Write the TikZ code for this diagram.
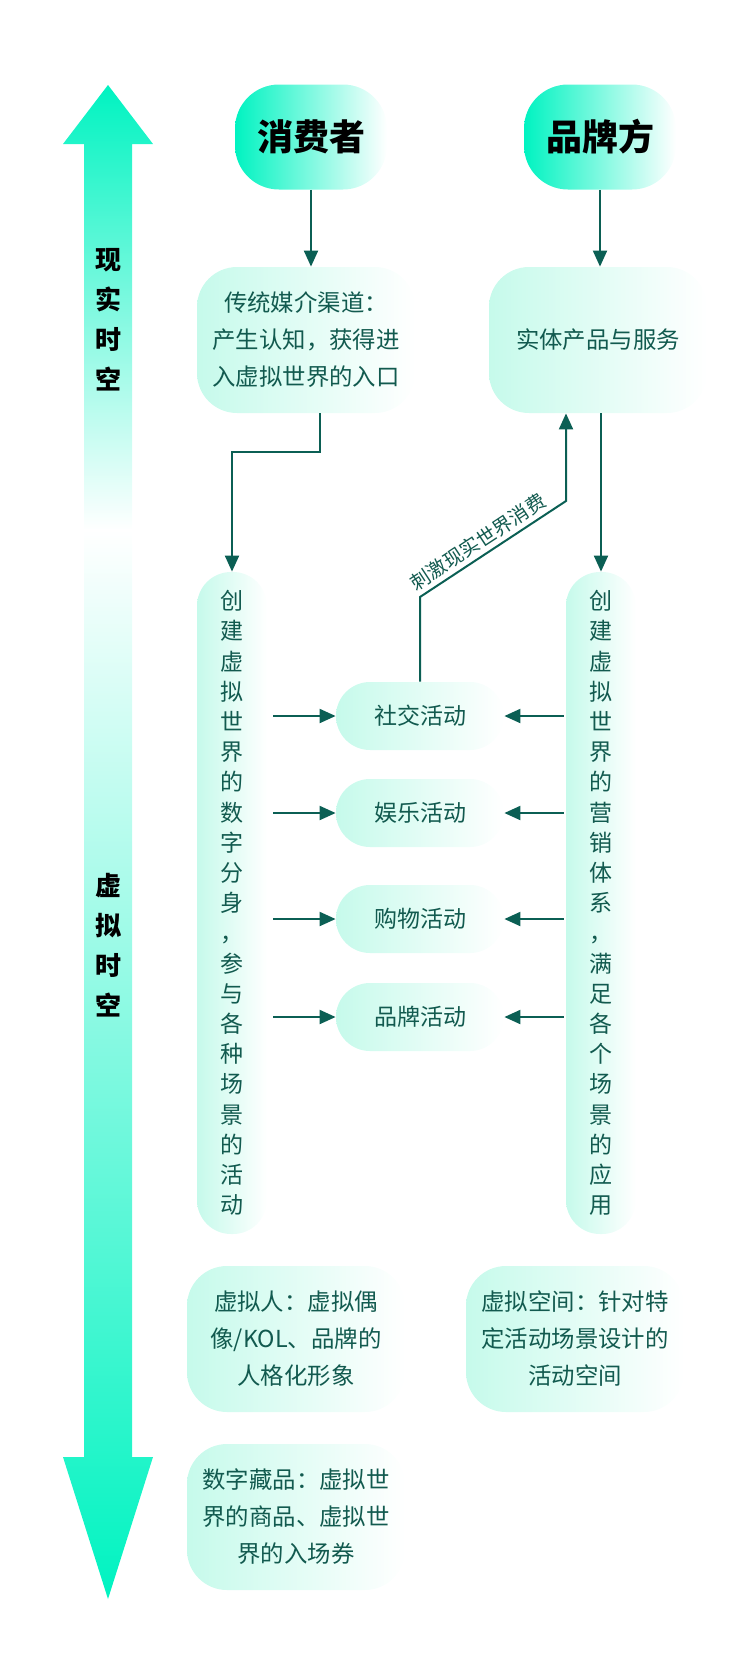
\documentclass[tikz,border=0pt]{standalone}
\usepackage{fontspec}
\usepackage{tikz}
\usetikzlibrary{arrows.meta}
\newfontfamily\cjk{Noto Sans CJK SC}
\definecolor{Mint}{HTML}{00F3C1}
\definecolor{PaleMint}{HTML}{C6FAEB}
\definecolor{DeepTeal}{HTML}{0B5F54}
\definecolor{InkTeal}{HTML}{125A4F}
\tikzset{
  titlebox/.style={rounded corners=22pt,left color=Mint,right color=white,minimum width=76pt,minimum height=52.5pt,text=black,font=\cjk\bfseries\fontsize{18}{20}\selectfont},
  infobox/.style={rounded corners=20pt,left color=PaleMint,right color=white,minimum width=109pt,minimum height=73pt,align=center,text=InkTeal,font=\cjk\fontsize{11.7}{18.5}\selectfont},
  columnbox/.style={rounded corners=17pt,left color=PaleMint,right color=white,minimum width=35pt,minimum height=331pt,align=center,text=InkTeal,font=\cjk\fontsize{11.5}{15.1}\selectfont},
  actbox/.style={rounded corners=17pt,left color=PaleMint,right color=white,minimum width=84pt,minimum height=34pt,text=InkTeal,font=\cjk\fontsize{11.5}{14}\selectfont},
  spacetag/.style={align=center,text=black,font=\cjk\bfseries\fontsize{13}{20}\selectfont},
  flow/.style={DeepTeal,line width=1pt,-{Triangle[length=8pt,width=7pt]}}
}
\begin{document}
\begin{tikzpicture}[x=0.5pt,y=-0.5pt]
  \useasboundingbox (0,0) rectangle (743,1672);
  \path[top color=Mint,bottom color=white] (84,531) -- (84,144) -- (63,144) -- (108,85) -- (153,144) -- (132,144) -- (132,531) -- cycle;
  \path[top color=white,bottom color=Mint] (84,529) -- (84,1457) -- (63,1457) -- (108,1599) -- (153,1457) -- (132,1457) -- (132,529) -- cycle;
  \node[spacetag] (realtag) at (108,320) {现\\实\\时\\空};
  \node[spacetag] (virttag) at (108,945) {虚\\拟\\时\\空};

  \node[titlebox] (cons) at (311,137) {消费者};
  \node[titlebox] (brand) at (600,137) {品牌方};
  \node[infobox] (media) at (306,340) {传统媒介渠道：\\产生认知，获得进\\入虚拟世界的入口};
  \node[infobox] (phys) at (598,340) {实体产品与服务};
  \node[columnbox] (leftcol) at (232,903) {创\\建\\虚\\拟\\世\\界\\的\\数\\字\\分\\身\\，\\参\\与\\各\\种\\场\\景\\的\\活\\动};
  \node[columnbox] (rightcol) at (601,903) {创\\建\\虚\\拟\\世\\界\\的\\营\\销\\体\\系\\，\\满\\足\\各\\个\\场\\景\\的\\应\\用};
  \node[actbox] (social) at (420,716) {社交活动};
  \node[actbox] (fun) at (420,813) {娱乐活动};
  \node[actbox] (shop) at (420,919) {购物活动};
  \node[actbox] (brandact) at (420,1017) {品牌活动};
  \node[infobox] (vperson) at (296,1339) {虚拟人：虚拟偶\\像/KOL、品牌的\\人格化形象};
  \node[infobox] (vspace) at (575,1339) {虚拟空间：针对特\\定活动场景设计的\\活动空间};
  \node[infobox] (nft) at (296,1517) {数字藏品：虚拟世\\界的商品、虚拟世\\界的入场券};

  \draw[flow] (cons.south) -- (cons.south |- media.north);
  \draw[flow] (brand.south) -- (brand.south |- phys.north);
  \draw[flow] ([xshift=7pt]media.south) -- ++(0,39) -| (leftcol.north);
  \draw[flow] (rightcol.north |- phys.south) -- (rightcol.north);
  \coordinate (stim) at (566,501);
  \draw[flow] (social.north) -- (social.north |- 0,597) -- node[sloped,above,pos=.45,inner sep=2pt,text=InkTeal,font=\cjk\fontsize{9.8}{11}\selectfont] {刺激现实世界消费} (stim) -- (stim |- phys.south);

  \draw[flow] ([xshift=3pt]leftcol.east |- social) -- (social.west);
  \draw[flow] ([xshift=3pt]leftcol.east |- fun) -- (fun.west);
  \draw[flow] ([xshift=3pt]leftcol.east |- shop) -- (shop.west);
  \draw[flow] ([xshift=3pt]leftcol.east |- brandact) -- (brandact.west);
  \draw[flow] ([xshift=-1pt]rightcol.west |- social) -- (social.east);
  \draw[flow] ([xshift=-1pt]rightcol.west |- fun) -- (fun.east);
  \draw[flow] ([xshift=-1pt]rightcol.west |- shop) -- (shop.east);
  \draw[flow] ([xshift=-1pt]rightcol.west |- brandact) -- (brandact.east);
\end{tikzpicture}
\end{document}
